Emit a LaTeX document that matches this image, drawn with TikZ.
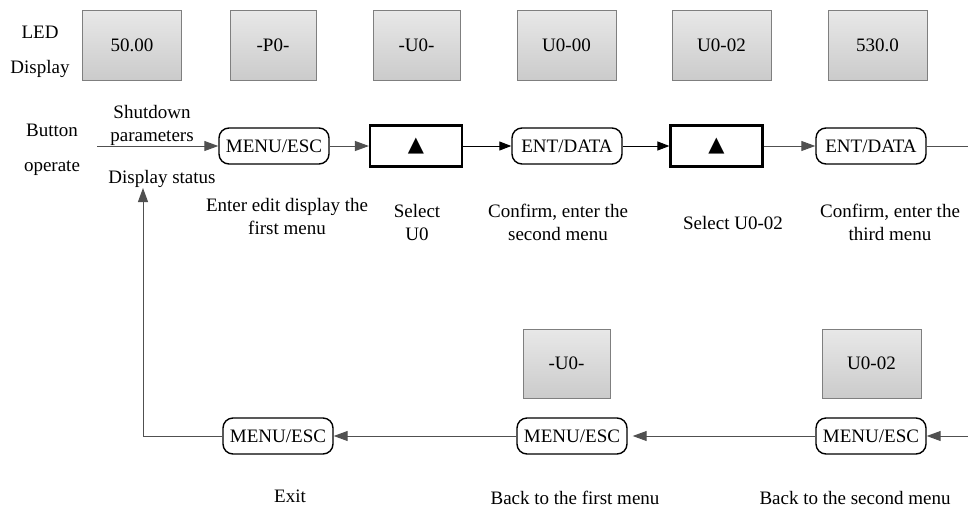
\documentclass[tikz,border=0pt]{standalone}
\usepackage{fontspec}
\setmainfont{Liberation Serif}
\newfontfamily\symfont{DejaVu Sans}
\usetikzlibrary{arrows.meta}
\definecolor{linegray}{HTML}{505050}
\definecolor{ledborder}{HTML}{7F7F7F}
\definecolor{ledtop}{HTML}{E8E8E8}
\definecolor{ledbottom}{HTML}{CBCBCB}

\begin{document}
\begin{tikzpicture}[
        x=0.5pt, y=-0.5pt,
        font=\fontsize{9.5}{11.5}\selectfont,
        led/.style={
          draw=ledborder,
          top color=ledtop,
          bottom color=ledbottom,
          minimum width=49.5pt,
          minimum height=35pt,
          inner sep=0pt
        },
        key/.style={
          draw=black,
          fill=white,
          line width=0.7pt,
          rounded corners=5pt,
          minimum width=55pt,
          minimum height=18pt,
          inner sep=0pt
        },
        upkey/.style={
          draw=black,
          line width=1.1pt,
          minimum width=46pt,
          minimum height=20.5pt,
          inner sep=0pt,
          font=\symfont\fontsize{10.5}{12}\selectfont
        },
        caption/.style={align=center, inner sep=0pt},
        widecaption/.style={caption, font=\fontsize{9.5}{17.5}\selectfont},
        arrow/.style={-{Triangle[length=7pt,width=5pt]}, draw=linegray, line width=0.5pt},
        blackarrow/.style={-{Triangle[length=6pt,width=4.5pt]}, draw=black, line width=0.5pt},
        link/.style={draw=linegray, line width=0.5pt}
      ]
        \useasboundingbox (0,0) rectangle (968,509);

        % LED display row
        \node[widecaption] (ledlabel) at (40,52) {LED\\Display};
        \node[led] (led1) at (132,45) {50.00};
        \node[led, minimum width=43pt] (led2) at (273,45) {-P0-};
        \node[led, minimum width=43.5pt] (led3) at (416.5,45) {-U0-};
        \node[led] (led4) at (566.5,45) {U0-00};
        \node[led] (led5) at (721.5,45) {U0-02};
        \node[led] (led6) at (877.5,45) {530.0};

        % button row
        \node[widecaption] (btnlabel) at (52,150) {Button\\operate};
        \node[caption] (shutdown) at (152,125) {Shutdown\\parameters};
        \node[caption] (status) at (162,179) {Display status};
        \coordinate (start) at (97,146);
        \node[key] (menu1) at (274,146) {MENU/ESC};
        \node[upkey] (up1) at (416,146) {▲};
        \node[key] (ent1) at (567,146) {ENT/DATA};
        \node[upkey] (up2) at (716.5,146) {▲};
        \node[key] (ent2) at (871,146) {ENT/DATA};
        \coordinate (outright) at (968,146);

        \draw[arrow] (start) -- (menu1.west);
        \draw[arrow] (menu1.east) -- (up1.west);
        \draw[blackarrow] (up1.east) -- (ent1.west);
        \draw[blackarrow] (ent1.east) -- (up2.west);
        \draw[arrow] (up2.east) -- (ent2.west);
        \draw[link] (ent2.east) -- (outright);

        \node[caption] (note1) at (287,216) {Enter edit display the\\first menu};
        \node[caption] (note2) at (417,222) {Select\\U0};
        \node[caption] (note3) at (558,222) {Confirm, enter the\\second menu};
        \node[caption] (note4) at (733,223) {Select U0-02};
        \node[caption] (note5) at (890,222) {Confirm, enter the\\third menu};

        % return row
        \node[led, minimum width=43.5pt, minimum height=34.5pt] (led7) at (566.5,363.5) {-U0-};
        \node[led, minimum height=34.5pt] (led8) at (871.5,363.5) {U0-02};
        \coordinate (inright) at (968,436);
        \node[key] (back3) at (871,436) {MENU/ESC};
        \node[key] (back2) at (572,436) {MENU/ESC};
        \node[key] (back1) at (278,436) {MENU/ESC};
        \coordinate (up) at (143,188);

        \draw[arrow] (inright) -- (back3.east);
        \draw[arrow, shorten >=2.5pt] (back3.west) -- (back2.east);
        \draw[arrow] (back2.west) -- (back1.east);
        \draw[arrow] (back1.west) -| (up);

        \node[caption] (exit) at (290,496) {Exit};
        \node[caption] (note6) at (575,498) {Back to the first menu};
        \node[caption] (note7) at (855,498) {Back to the second menu};
      \end{tikzpicture}
\end{document}
